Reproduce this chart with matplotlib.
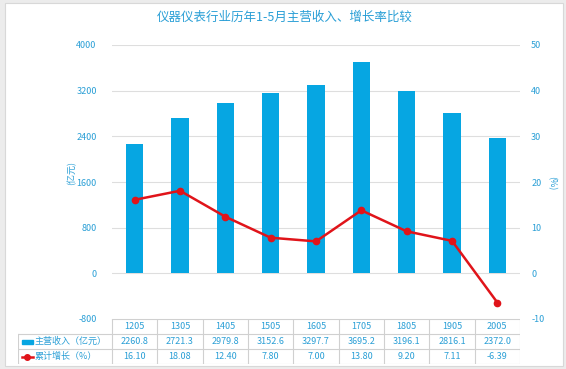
import matplotlib
matplotlib.use("Agg")
import matplotlib.pyplot as plt
from matplotlib.patches import Rectangle
from matplotlib.lines import Line2D

plt.rcParams['font.family'] = ['Noto Sans CJK SC', 'DejaVu Sans']
plt.rcParams['axes.unicode_minus'] = False

# 数据
years = ['1205', '1305', '1405', '1505', '1605', '1705', '1805', '1905', '2005']
revenue = [2260.8, 2721.3, 2979.8, 3152.6, 3297.7, 3695.2, 3196.1, 2816.1, 2372.0]
growth = [16.10, 18.08, 12.40, 7.80, 7.00, 13.80, 9.20, 7.11, -6.39]
left_ticks = [-800, 0, 800, 1600, 2400, 3200, 4000]
right_ticks = [-10, 0, 10, 20, 30, 40, 50]

blue = '#06A6E2'
red = '#E0141A'
txt = '#2A9FD6'
grid_c = '#DEDEDE'

W, H = 566, 369
fig = plt.figure(figsize=(W / 100, H / 100), dpi=100)
fig.patch.set_facecolor('#ECECEC')
fig.patches.append(Rectangle((5 / W, 1 - 366 / H), (563 - 5) / W, (366 - 3) / H,
                             transform=fig.transFigure, facecolor='white',
                             edgecolor='#D8D8D8', lw=0.8, zorder=-1))

# 主图
ax = fig.add_axes([112 / W, 1 - 319 / H, (520 - 112) / W, (319 - 45) / H])
ax.set_facecolor('none')
x = list(range(len(years)))
ax.bar(x, revenue, width=0.38, color=blue, zorder=2)
ax.set_xlim(-0.5, 8.5)
ax.set_ylim(-800, 4000)
ax.set_yticks(left_ticks)
ax.set_xticks([])
ax.grid(axis='y', color=grid_c, lw=0.8)
ax.set_axisbelow(True)
for s in ax.spines.values():
    s.set_visible(False)
ax.tick_params(axis='y', length=0, pad=11, labelsize=6.5, labelcolor=txt)

ax2 = ax.twinx()
ax2.plot(x, growth, color=red, lw=1.8, marker='o', markersize=4.5, zorder=3)
ax2.set_ylim(-10, 50)
ax2.set_yticks(right_ticks)
for s in ax2.spines.values():
    s.set_visible(False)
ax2.tick_params(axis='y', length=0, pad=8, labelsize=6.5, labelcolor=txt)

fig.text(285 / W, 1 - 17 / H, '仪器仪表行业历年1-5月主营收入、增长率比较',
         ha='center', va='center', fontsize=9, color=txt)
fig.text(72 / W, 1 - 173 / H, '(亿元)', rotation=90, ha='center', va='center',
         fontsize=6.5, color=txt)
fig.text(551 / W, 1 - 183 / H, '(%)', rotation=-90, ha='center', va='center',
         fontsize=6.5, color=txt)

# 表格
tab = fig.add_axes([18 / W, 1 - 364 / H, (520 - 18) / W, (364 - 319) / H])
tab.axis('off')
extra = (112 - 18) / ((520 - 112) / 9)
x0 = -0.5 - extra
tab.set_xlim(x0, 8.5)
tab.set_ylim(3, 0)
line_kw = dict(color='#D0D0D0', lw=0.8)
tab.plot([-0.5, 8.5], [0, 0], **line_kw)
for yy in [1, 2, 3]:
    tab.plot([x0, 8.5], [yy, yy], **line_kw)
for i in range(10):
    tab.plot([-0.5 + i, -0.5 + i], [0, 3], **line_kw)
tab.plot([x0, x0], [1, 3], **line_kw)

for i, yr in enumerate(years):
    tab.text(i, 0.5, yr, ha='center', va='center', fontsize=6.5, color=txt)
    tab.text(i, 1.5, f'{revenue[i]:.1f}', ha='center', va='center', fontsize=6.5, color=txt)
    tab.text(i, 2.5, f'{growth[i]:.2f}', ha='center', va='center', fontsize=6.5, color=txt)

px = 1 / ((520 - 112) / 9)
tab.add_patch(Rectangle((x0 + 3.7 * px, 1.38), 11.3 * px, 0.28, color=blue))
tab.add_line(Line2D([x0 + 3.7 * px, x0 + 15 * px], [2.5, 2.5], color=red, lw=1.8))
tab.plot([x0 + 9.3 * px], [2.5], marker='o', color=red, markersize=4)
tab.text(x0 + 17 * px, 1.5, '主营收入（亿元）', ha='left', va='center', fontsize=6.5, color=txt)
tab.text(x0 + 17 * px, 2.5, '累计增长（%）', ha='left', va='center', fontsize=6.5, color=txt)

fig.savefig('out.png', dpi=100)
